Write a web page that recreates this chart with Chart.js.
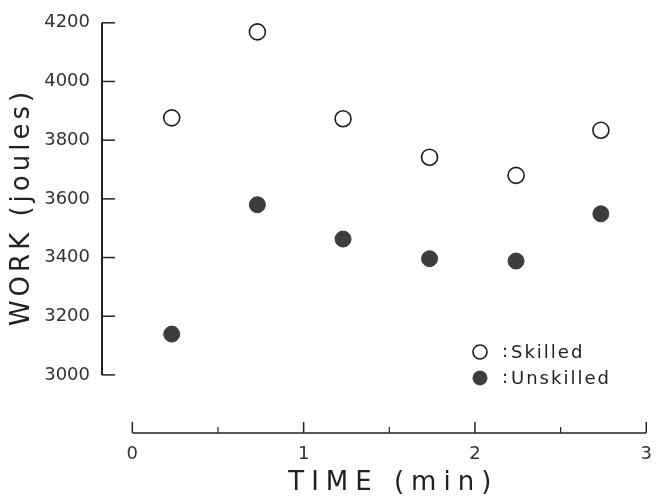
<!DOCTYPE html>
<html>
<head>
<meta charset="utf-8">
<script src="https://cdn.jsdelivr.net/npm/chart.js@4.4.0/dist/chart.umd.min.js"></script>
<style>
  html, body { margin: 0; padding: 0; background: #fff; }
  #wrap { width: 663px; height: 498px; }
</style>
</head>
<body>
<div id="wrap"><canvas id="workChart" width="663" height="498"></canvas></div>
<script>
// values
const times = [0.23, 0.73, 1.23, 1.735, 2.24, 2.735];
const skilledWork = [3876, 4169, 3873, 3742, 3680, 3834];
const unskilledWork = [3139, 3580, 3463, 3396, 3388, 3549];
const workTicks = [3000, 3200, 3400, 3600, 3800, 4000, 4200];
const timeTicks = [0, 1, 2, 3];
const timeMinorTicks = [0.5, 1.5, 2.5];
const seriesNames = ['Skilled', 'Unskilled'];

const INK = '#222';
const FONT = "'DejaVu Sans', sans-serif";

// old-style detached axes, inward ticks, titles and the in-plot legend
const paperAxes = {
    id: 'paperAxes',
    afterDraw(chart) {
        const ctx = chart.ctx;
        const xs = chart.scales.x;
        const ys = chart.scales.y;
        const left = chart.chartArea.left;
        const axisY = chart.chartArea.bottom;

        ctx.save();
        ctx.strokeStyle = INK;
        ctx.lineCap = 'butt';

        // y axis
        const yTop = ys.getPixelForValue(workTicks[workTicks.length - 1]);
        const yBot = ys.getPixelForValue(workTicks[0]);
        ctx.lineWidth = 2;
        ctx.beginPath();
        ctx.moveTo(left, yTop);
        ctx.lineTo(left, yBot);
        ctx.stroke();
        ctx.lineWidth = 1.5;
        workTicks.forEach(v => {
            const py = ys.getPixelForValue(v);
            ctx.beginPath();
            ctx.moveTo(left, py);
            ctx.lineTo(left + 13, py);
            ctx.stroke();
        });

        // x axis
        const x0 = xs.getPixelForValue(timeTicks[0]);
        const x1 = xs.getPixelForValue(timeTicks[timeTicks.length - 1]);
        ctx.lineWidth = 1.5;
        ctx.beginPath();
        ctx.moveTo(x0, axisY);
        ctx.lineTo(x1, axisY);
        ctx.stroke();
        timeTicks.forEach(v => {
            const px = xs.getPixelForValue(v);
            ctx.beginPath();
            ctx.moveTo(px, axisY);
            ctx.lineTo(px, axisY - 11);
            ctx.stroke();
        });
        ctx.lineWidth = 1.2;
        timeMinorTicks.forEach(v => {
            const px = xs.getPixelForValue(v);
            ctx.beginPath();
            ctx.moveTo(px, axisY);
            ctx.lineTo(px, axisY - 6);
            ctx.stroke();
        });

        // axis titles
        ctx.fillStyle = INK;
        ctx.textAlign = 'center';
        ctx.textBaseline = 'middle';
        ctx.font = '26px ' + FONT;
        ctx.letterSpacing = '7px';
        ctx.fillText('TIME (min)', (x0 + x1) / 2 + 4, 483);
        ctx.save();
        ctx.translate(22, 209);
        ctx.rotate(-Math.PI / 2);
        ctx.letterSpacing = '4px';
        ctx.fillText('WORK (joules)', 2, 0);
        ctx.restore();

        // legend
        const legendX = 480;
        const legendY = [352, 378];
        chart.data.datasets.forEach((ds, i) => {
            const cy = legendY[i];
            ctx.beginPath();
            ctx.arc(legendX, cy, 7, 0, Math.PI * 2);
            ctx.fillStyle = ds.backgroundColor;
            ctx.fill();
            ctx.lineWidth = ds.pointBorderWidth;
            ctx.strokeStyle = ds.borderColor;
            ctx.stroke();
            ctx.fillStyle = INK;
            ctx.font = '18px ' + FONT;
            ctx.letterSpacing = '0px';
            ctx.textAlign = 'center';
            ctx.fillText(':', legendX + 25, cy);
            ctx.letterSpacing = '2px';
            ctx.textAlign = 'left';
            ctx.fillText(seriesNames[i], legendX + 31, cy + 1);
        });
        ctx.restore();
    }
};

const ctx = document.getElementById('workChart').getContext('2d');

new Chart(ctx, {
    type: 'scatter',
    data: {
        datasets: [{
            label: seriesNames[0],
            data: times.map((t, i) => ({ x: t, y: skilledWork[i] })),
            pointStyle: 'circle',
            pointRadius: 8,
            pointBorderWidth: 1.6,
            backgroundColor: 'rgba(255, 255, 255, 0)',
            borderColor: '#1e1e1e',
            clip: false
        }, {
            label: seriesNames[1],
            data: times.map((t, i) => ({ x: t, y: unskilledWork[i] })),
            pointStyle: 'circle',
            pointRadius: 8,
            pointBorderWidth: 1,
            backgroundColor: '#3d3d3d',
            borderColor: '#3d3d3d',
            clip: false
        }]
    },
    options: {
        responsive: false,
        animation: false,
        layout: {
            padding: { top: 17, right: 5, left: 0, bottom: 0 }
        },
        plugins: {
            legend: { display: false },
            tooltip: { enabled: false }
        },
        scales: {
            x: {
                type: 'linear',
                position: 'bottom',
                min: -0.177,
                max: 3,
                afterBuildTicks: scale => {
                    scale.ticks = timeTicks.map(v => ({ value: v }));
                },
                afterFit: scale => { scale.height = 65; },
                grid: { display: false, drawTicks: false },
                border: { display: false },
                ticks: {
                    autoSkip: false,
                    maxRotation: 0,
                    padding: 11,
                    color: '#333',
                    font: { family: FONT, size: 18 },
                    callback: v => String(v)
                }
            },
            y: {
                min: 2802,
                max: 4200,
                afterBuildTicks: scale => {
                    scale.ticks = workTicks.map(v => ({ value: v }));
                },
                afterFit: scale => { scale.width = 102; },
                grid: { display: false, drawTicks: false },
                border: { display: false },
                ticks: {
                    autoSkip: false,
                    padding: 12,
                    color: '#333',
                    font: { family: FONT, size: 18 },
                    callback: v => String(v)
                }
            }
        }
    },
    plugins: [paperAxes]
});
</script>
</body>
</html>
